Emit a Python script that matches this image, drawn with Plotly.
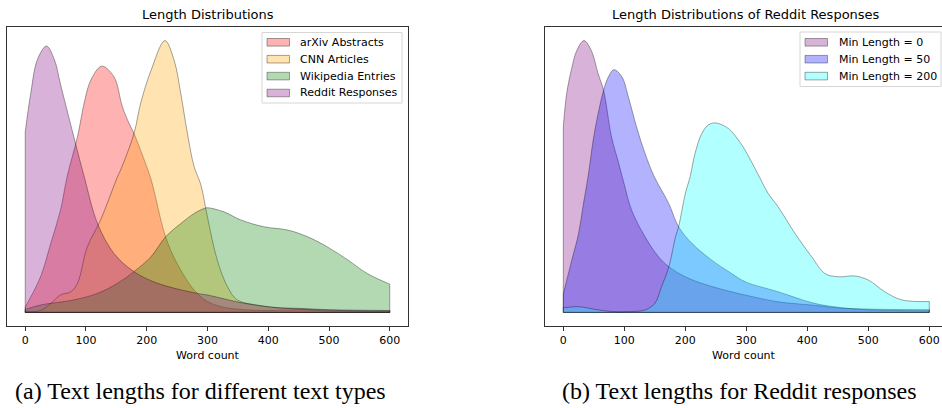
import plotly.graph_objects as go

# ---------------- data (relative density) ----------------
tick_vals = [0, 100, 200, 300, 400, 500, 600]

# Left panel: Length Distributions
arxiv_x = [0, 25, 42, 58, 69, 86, 97, 108, 126, 146, 160, 171, 179, 196, 207, 231, 250, 278, 300, 325, 350, 400, 450, 500, 600]
arxiv_y = [0.02, 0.13, 0.254, 0.376, 0.50, 0.646, 0.77, 0.855, 0.906, 0.867, 0.756, 0.695, 0.658, 0.56, 0.49, 0.278, 0.18, 0.082, 0.04, 0.02, 0.012, 0.007, 0.01, 0.005, 0.003]

cnn_x = [0, 25, 42, 58, 75, 86, 102, 124, 152, 157, 179, 190, 207, 230, 245, 256, 267, 278, 289, 300, 316, 333, 349, 382, 450, 600]
cnn_y = [0.003, 0.007, 0.033, 0.064, 0.076, 0.107, 0.24, 0.34, 0.50, 0.524, 0.658, 0.77, 0.89, 1.0, 0.928, 0.805, 0.658, 0.536, 0.47, 0.35, 0.193, 0.094, 0.046, 0.027, 0.012, 0.005]

wiki_x = [0, 25, 80, 119, 152, 179, 207, 231, 256, 278, 294, 300, 327, 355, 393, 432, 465, 498, 531, 563, 600]
wiki_y = [0.011, 0.027, 0.046, 0.07, 0.107, 0.15, 0.205, 0.278, 0.327, 0.364, 0.382, 0.385, 0.37, 0.34, 0.315, 0.303, 0.278, 0.24, 0.193, 0.143, 0.104]

reddit_x = [0, 9, 20, 35, 48, 58, 80, 97, 119, 146, 179, 218, 283, 300, 355, 410, 450, 500, 600]
reddit_y = [0.665, 0.805, 0.93, 0.98, 0.93, 0.84, 0.646, 0.50, 0.327, 0.217, 0.15, 0.107, 0.07, 0.064, 0.036, 0.018, 0.015, 0.01, 0.007]

# Right panel: Length Distributions of Reddit Responses
min0_x = [0, 5.5, 14, 22, 34, 46, 57, 66, 79, 90, 100, 112, 134, 156, 173, 200, 227, 265, 298, 352, 407, 462, 600]
min0_y = [0.683, 0.805, 0.90, 0.963, 1.0, 0.963, 0.879, 0.817, 0.646, 0.555, 0.47, 0.376, 0.278, 0.205, 0.168, 0.131, 0.107, 0.082, 0.064, 0.039, 0.027, 0.015, 0.01]

min50_x = [0, 14, 25, 33, 41, 49, 57, 66, 74, 83, 96, 107, 120, 134, 149, 173, 189, 211, 243, 276, 298, 352, 407, 434, 489, 600]
min50_y = [0.068, 0.193, 0.29, 0.40, 0.505, 0.634, 0.73, 0.817, 0.867, 0.893, 0.867, 0.79, 0.683, 0.585, 0.50, 0.40, 0.315, 0.254, 0.193, 0.143, 0.113, 0.076, 0.036, 0.024, 0.011, 0.006]

min200_x = [0, 25, 50, 80, 110, 134, 150, 161, 173, 184, 189, 200, 208, 216, 227, 238, 250, 271, 287, 298, 320, 336, 352, 380, 407, 429, 451, 478, 500, 527, 555, 600]
min200_y = [0.017, 0.021, 0.012, 0.003, 0.003, 0.009, 0.033, 0.094, 0.168, 0.278, 0.315, 0.437, 0.50, 0.585, 0.658, 0.69, 0.697, 0.676, 0.634, 0.597, 0.505, 0.437, 0.389, 0.29, 0.205, 0.143, 0.131, 0.134, 0.119, 0.076, 0.046, 0.04]

left_series = [
    ("arXiv Abstracts", arxiv_x, arxiv_y, "rgba(255,0,0,0.3)"),
    ("CNN Articles", cnn_x, cnn_y, "rgba(255,165,0,0.3)"),
    ("Wikipedia Entries", wiki_x, wiki_y, "rgba(0,128,0,0.3)"),
    ("Reddit Responses", reddit_x, reddit_y, "rgba(128,0,128,0.3)"),
]
right_series = [
    ("Min Length = 0", min0_x, min0_y, "rgba(128,0,128,0.3)"),
    ("Min Length = 50", min50_x, min50_y, "rgba(0,0,255,0.3)"),
    ("Min Length = 200", min200_x, min200_y, "rgba(0,255,255,0.3)"),
]

W, H = 942, 408
EDGE = "rgba(0,0,0,0.35)"
FONT = "DejaVu Sans"

fig = go.Figure()


def add_series(series, xa, ya):
    for name, xs, ys, col in series:
        fig.add_trace(go.Scatter(
            x=xs, y=ys, name=name, mode="lines", line=dict(shape="spline", smoothing=1.0, color=EDGE, width=1),
            fill="tozeroy", fillcolor=col, xaxis=xa, yaxis=ya, showlegend=False, hoverinfo="skip"))
        # polygon edges: vertical ends and baseline
        fig.add_trace(go.Scatter(
            x=[xs[0], xs[0], None, xs[-1], xs[-1], None, xs[0], xs[-1]],
            y=[0, ys[0], None, 0, ys[-1], None, 0, 0],
            mode="lines", line=dict(color=EDGE, width=1), showlegend=False,
            xaxis=xa, yaxis=ya, hoverinfo="skip"))


add_series(left_series, "x", "y")
add_series(right_series, "x2", "y2")

ymax_l = max(max(s[2]) for s in left_series)
ymax_r = max(max(s[2]) for s in right_series)

shapes = []
annotations = []


def px_x(v):
    return v / W


def px_y(v):
    return 1 - v / H


def add_legend(series, box, patch_x0, text_x, first_y, step):
    x0, y0, x1, y1 = box
    shapes.append(dict(type="rect", xref="paper", yref="paper", x0=px_x(x0), x1=px_x(x1),
                       y0=px_y(y1), y1=px_y(y0), line=dict(color="#d6d6d6", width=1),
                       fillcolor="rgba(255,255,255,0.8)", layer="above"))
    for i, (name, xs, ys, col) in enumerate(series):
        cy = first_y + i * step
        shapes.append(dict(type="rect", xref="paper", yref="paper", x0=px_x(patch_x0), x1=px_x(patch_x0 + 22.5),
                           y0=px_y(cy + 3.8), y1=px_y(cy - 3.8), line=dict(color=EDGE, width=1),
                           fillcolor=col, layer="above"))
        annotations.append(dict(text=name, x=px_x(text_x), y=px_y(cy), xref="paper", yref="paper",
                                xanchor="left", yanchor="middle", showarrow=False,
                                font=dict(family=FONT, size=11, color="black")))


add_legend(left_series, (262, 32.5, 402, 103), 267, 298, 42.3, 16.9)
add_legend(right_series, (800, 32, 941, 86.5), 805, 836.5, 42.3, 16.9)

annotations += [
    dict(text="Length Distributions", x=px_x(207.5), y=px_y(15), xref="paper", yref="paper",
         xanchor="center", yanchor="middle", showarrow=False, font=dict(family=FONT, size=13)),
    dict(text="Length Distributions of Reddit Responses", x=px_x(746), y=px_y(15), xref="paper", yref="paper",
         xanchor="center", yanchor="middle", showarrow=False, font=dict(family=FONT, size=13)),
    dict(text="(a) Text lengths for different text types", x=px_x(200), y=px_y(391), xref="paper", yref="paper",
         xanchor="center", yanchor="middle", showarrow=False, font=dict(family="Liberation Serif", size=24)),
    dict(text="(b) Text lengths for Reddit responses", x=px_x(739), y=px_y(391), xref="paper", yref="paper",
         xanchor="center", yanchor="middle", showarrow=False, font=dict(family="Liberation Serif", size=24)),
]

ydom = [1 - 326 / H, 1 - 27 / H]
axis_common = dict(showline=True, linecolor="#333", linewidth=1, showgrid=False, zeroline=False)
xcommon = dict(axis_common, tickmode="array", tickvals=tick_vals, ticks="outside", ticklen=3.5,
               tickcolor="#333", tickfont=dict(family=FONT, size=11, color="black"),
               ticklabelstandoff=0,
               title=dict(text="Word count", font=dict(family=FONT, size=11, color="black"), standoff=5))

fig.update_layout(
    width=W, height=H, margin=dict(l=0, r=0, t=0, b=0),
    paper_bgcolor="white", plot_bgcolor="white", showlegend=False,
    font=dict(family=FONT, size=11, color="black"),
    xaxis=dict(xcommon, domain=[7 / W, 408 / W], range=[-30, 630], mirror=True, anchor="y"),
    yaxis=dict(axis_common, domain=ydom, range=[-0.05 * ymax_l, 1.05 * ymax_l], mirror=True,
               showticklabels=False, ticks="", anchor="x"),
    xaxis2=dict(xcommon, domain=[545 / W, 1.0], range=[-30, -30 + (W - 545) / 0.61], mirror=True, anchor="y2"),
    yaxis2=dict(axis_common, domain=ydom, range=[-0.05 * ymax_r, 1.05 * ymax_r], mirror=False,
                showticklabels=False, ticks="", anchor="x2"),
    shapes=shapes,
    annotations=annotations,
)

fig.write_html("out.html", config={"displayModeBar": False},
               post_script="document.body.style.margin='0px';")
